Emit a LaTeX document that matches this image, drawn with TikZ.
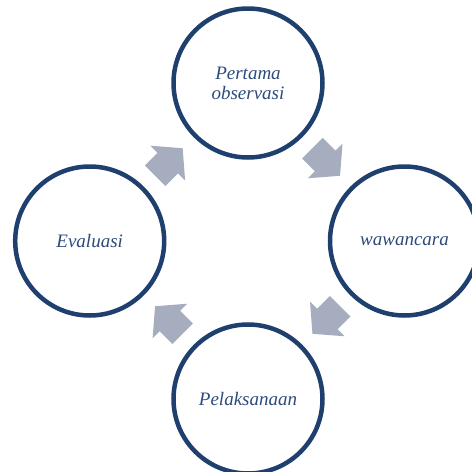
\documentclass[tikz,border=0pt]{standalone}
\usepackage{fontspec}
\setmainfont{Liberation Serif}
\usetikzlibrary{calc}

\definecolor{ringblue}{RGB}{31,63,110}
\definecolor{labelblue}{RGB}{44,74,124}
\definecolor{arrowgrey}{RGB}{165,173,191}

\tikzset{
  stage/.style={circle, draw=ringblue, line width=4.5pt, minimum size=149pt, inner sep=0pt,
    align=center, text=labelblue, font=\fontsize{19}{20}\selectfont\itshape},
  pics/cyclearrow/.style={code={
    \fill[arrowgrey] (-19.5,-14.5) -- (-1.5,-14.5) -- (-1.5,-24.5) -- (19.5,0) -- (-1.5,24.5) -- (-1.5,14.5) -- (-19.5,14.5) -- cycle ;
  }}
}

\begin{document}
\begin{tikzpicture}[x=1pt,y=1pt,yscale=-1,xscale=1]
\useasboundingbox (0,0) rectangle (472,472);

% Stage circles
\node[stage] (pertama) at (248,83) {Pertama\\observasi};
\node[stage] (wawancara) at (404.5,241) {wawancara};
\node[stage] (pelaksanaan) at (248,399) {Pelaksanaan};
\node[stage] (evaluasi) at (89.7,241) {Evaluasi};

% Block arrows between the stages
\pic[rotate=45] at ($(evaluasi)!0.5!(pertama)$) {cyclearrow};
\pic[rotate=-45] at ($(pertama)!0.5!(wawancara)$) {cyclearrow};
\pic[rotate=-135] at ($(wawancara)!0.5!(pelaksanaan)$) {cyclearrow};
\pic[rotate=135] at ($(pelaksanaan)!0.5!(evaluasi)$) {cyclearrow};

\end{tikzpicture}
\end{document}
